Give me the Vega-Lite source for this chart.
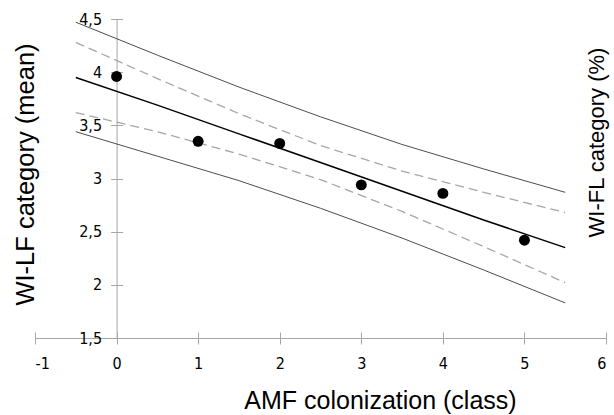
{
  "$schema": "https://vega.github.io/schema/vega-lite/v6.json",
  "width": 571,
  "height": 319,
  "autosize": {"type": "none"},
  "padding": {"left": 35, "top": 19, "right": 8, "bottom": 77},
  "background": "white",
  "config": {
    "view": {"stroke": null},
    "axis": {"grid": false, "domainColor": "#a6a6a6", "tickColor": "#a6a6a6", "labelColor": "#000000", "titleColor": "#000000", "labelFont": "Liberation Sans Narrow, DejaVu Sans Condensed, sans-serif", "titleFont": "Liberation Sans, Arial, sans-serif", "titleFontWeight": "normal"}
  },
  "datasets": {
    "means": [
      {"amf": 0, "wilf": 3.96},
      {"amf": 1, "wilf": 3.35},
      {"amf": 2, "wilf": 3.33},
      {"amf": 3, "wilf": 2.94},
      {"amf": 4, "wilf": 2.86},
      {"amf": 5, "wilf": 2.42}
    ],
    "fit": [
      {"amf": -0.5, "fit": 3.95, "cl": 3.62, "cu": 4.28, "pl": 3.44, "pu": 4.47},
      {"amf": 0.5, "fit": 3.69, "cl": 3.44, "cu": 3.94, "pl": 3.21, "pu": 4.16},
      {"amf": 1.5, "fit": 3.42, "cl": 3.23, "cu": 3.61, "pl": 2.98, "pu": 3.86},
      {"amf": 2.5, "fit": 3.15, "cl": 2.99, "cu": 3.31, "pl": 2.72, "pu": 3.58},
      {"amf": 3.5, "fit": 2.88, "cl": 2.69, "cu": 3.07, "pl": 2.44, "pu": 3.32},
      {"amf": 4.5, "fit": 2.61, "cl": 2.36, "cu": 2.87, "pl": 2.14, "pu": 3.09},
      {"amf": 5.5, "fit": 2.35, "cl": 2.02, "cu": 2.68, "pl": 1.83, "pu": 2.87}
    ]
  },
  "resolve": {"axis": {"x": "independent", "y": "independent"}},
  "layer": [
    {
      "data": {"name": "fit"},
      "mark": {"type": "line", "color": "#4d4d4d", "strokeWidth": 1},
      "encoding": {
        "x": {"field": "amf", "type": "quantitative", "scale": {"domain": [-1, 6], "nice": false, "zero": false},
          "axis": {"orient": "bottom", "values": [-1, 0, 1, 2, 3, 4, 5, 6], "labelExpr": "datum.value + ''", "tickSize": 6, "labelPadding": 11, "labelFontSize": 16, "title": "AMF colonization (class)", "titleFontSize": 25, "titleX": 345, "titleY": 70, "titleAlign": "center", "titleBaseline": "alphabetic"}},
        "y": {"field": "pu", "type": "quantitative", "scale": {"domain": [1.5, 4.5], "nice": false, "zero": false},
          "axis": {"orient": "left", "offset": -81.6, "values": [1.5, 2, 2.5, 3, 3.5, 4, 4.5], "labelExpr": "replace(datum.value + '', '.', ',')", "tickSize": 6, "labelPadding": 9, "labelFontSize": 16, "title": "WI-LF category (mean)", "titleFontSize": 25.5, "titleAngle": 270, "titleX": -83.6, "titleY": 155, "titleAlign": "center", "titleBaseline": "alphabetic"}}
      }
    },
    {
      "data": {"name": "fit"},
      "mark": {"type": "line", "color": "#4d4d4d", "strokeWidth": 1},
      "encoding": {
        "x": {"field": "amf", "type": "quantitative", "scale": {"domain": [-1, 6], "nice": false, "zero": false},
          "axis": {"orient": "bottom", "values": [-1, 0, 1, 2, 3, 4, 5, 6], "tickSize": -6, "labels": false, "domain": false, "title": null}},
        "y": {"field": "pl", "type": "quantitative",
          "axis": {"orient": "left", "offset": -81.6, "values": [1.5, 2, 2.5, 3, 3.5, 4, 4.5], "tickSize": -6, "labels": false, "domain": false, "title": null}}
      }
    },
    {
      "data": {"name": "fit"},
      "mark": {"type": "line", "color": "#a6a6a6", "strokeWidth": 1.3, "strokeDash": [9, 5]},
      "encoding": {
        "x": {"field": "amf", "type": "quantitative", "axis": null},
        "y": {"field": "cu", "type": "quantitative", "axis": null}
      }
    },
    {
      "data": {"name": "fit"},
      "mark": {"type": "line", "color": "#a6a6a6", "strokeWidth": 1.3, "strokeDash": [9, 5]},
      "encoding": {
        "x": {"field": "amf", "type": "quantitative", "axis": null},
        "y": {"field": "cl", "type": "quantitative", "axis": null}
      }
    },
    {
      "data": {"name": "fit"},
      "mark": {"type": "line", "color": "#000000", "strokeWidth": 1.5},
      "encoding": {
        "x": {"field": "amf", "type": "quantitative", "axis": null},
        "y": {"field": "fit", "type": "quantitative", "axis": null}
      }
    },
    {
      "data": {"name": "means"},
      "mark": {"type": "point", "filled": true, "color": "#000000", "opacity": 1, "size": 120},
      "encoding": {
        "x": {"field": "amf", "type": "quantitative", "axis": null},
        "y": {"field": "wilf", "type": "quantitative",
          "axis": {"orient": "right", "labels": false, "ticks": false, "domain": false, "title": "WI-FL category (%)", "titleFontSize": 22, "titleAngle": 270, "titleX": -3, "titleY": 123, "titleAlign": "center", "titleBaseline": "alphabetic"}}
      }
    }
  ]
}
